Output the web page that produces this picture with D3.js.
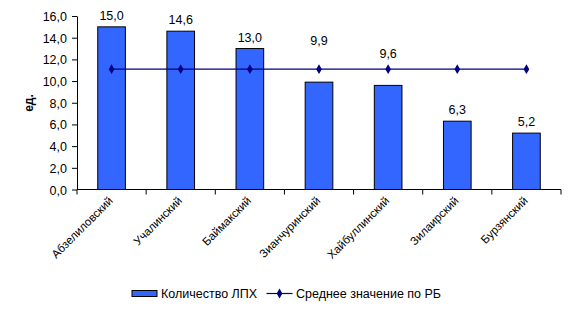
<!DOCTYPE html>
<html>
<head>
<meta charset="utf-8">
<script src="https://cdn.jsdelivr.net/npm/d3@7"></script>
<style>
  html, body { margin: 0; padding: 0; background: #fff; }
  svg { display: block; font-family: Arial, "Liberation Sans", sans-serif; }
</style>
</head>
<body>
<svg id="chart" width="576" height="326"></svg>
<script>
// Districts and number of private farms per district
const districts = ["Абзелиловский", "Учалинский", "Баймакский", "Зианчуринский", "Хайбуллинский", "Зилаирский", "Бурзянский"];
const farmCounts = [15.0, 14.6, 13.0, 9.9, 9.6, 6.3, 5.2];
const republicAverage = [11.1, 11.1, 11.1, 11.1, 11.1, 11.1, 11.1];
const yTicks = [0, 2, 4, 6, 8, 10, 12, 14, 16];
const seriesNames = ["Количество ЛПХ", "Среднее значение по РБ"];

const fmt = v => v.toFixed(1).replace(".", ",");
const svg = d3.select("#chart");

const plot = { left: 77, right: 561, top: 16, bottom: 189.5 };

const x = d3.scaleBand().domain(districts).range([plot.left, plot.right]).paddingInner(0.6).paddingOuter(0.3);
const xTicks = d3.scaleBand().domain(districts).range([plot.left, plot.right]);
const y = d3.scaleLinear().domain([0, 16]).range([plot.bottom, plot.top]);

// Y axis
const yAxis = d3.axisLeft(y).tickValues(yTicks).tickFormat(fmt).tickSize(5).tickSizeOuter(0);
const gy = svg.append("g").attr("transform", `translate(${plot.left},0)`).call(yAxis);
gy.select(".domain").attr("stroke", "#000");
gy.selectAll(".tick line").attr("stroke", "#000");
gy.selectAll(".tick text").attr("font-size", 12.5).attr("fill", "#000").attr("x", -10).attr("dy", "0.36em")
  .attr("font-family", "Arial, 'Liberation Sans', sans-serif");

// X axis line with category separators
svg.append("line").attr("x1", plot.left).attr("x2", plot.right)
  .attr("y1", y(0)).attr("y2", y(0)).attr("stroke", "#000");
const sepPositions = districts.map(d => xTicks(d)).concat([plot.right]);
svg.selectAll(".sep").data(sepPositions).enter().append("line")
  .attr("x1", d => d).attr("x2", d => d)
  .attr("y1", y(0)).attr("y2", y(0) + 5).attr("stroke", "#000");

// Bars
svg.selectAll(".bar").data(farmCounts).enter().append("rect")
  .attr("x", (d, i) => x(districts[i]))
  .attr("y", d => y(d))
  .attr("width", x.bandwidth())
  .attr("height", d => y(0) - y(d))
  .attr("fill", "#3366FF").attr("stroke", "#000").attr("stroke-width", 1);

// Average line with diamond markers
const cx = i => xTicks(districts[i]) + xTicks.bandwidth() / 2;
const line = d3.line().x((d, i) => cx(i)).y(d => y(d));
svg.append("path").datum(republicAverage).attr("d", line)
  .attr("fill", "none").attr("stroke", "#000080").attr("stroke-width", 1.2);
const diamond = d3.symbol().type(d3.symbolDiamond).size(28);
svg.selectAll(".mk").data(republicAverage).enter().append("path")
  .attr("d", diamond)
  .attr("transform", (d, i) => `translate(${cx(i)},${y(d)})`)
  .attr("fill", "#000080");

// Value labels; labels that would sit on the average line are lifted above it
const avgY = y(republicAverage[0]);
let lifted = 0;
svg.selectAll(".val").data(farmCounts).enter().append("text")
  .attr("x", (d, i) => cx(i))
  .attr("y", d => {
    const base = y(d) - 7;
    if (base > avgY - 12 && base < avgY + 16) {
      lifted++;
      return avgY - (lifted === 1 ? 24 : 11);
    }
    return base;
  })
  .attr("text-anchor", "middle").attr("font-size", 12.5).attr("fill", "#000")
  .text(fmt);

// Category labels, rotated
svg.selectAll(".cat").data(districts).enter().append("text")
  .attr("transform", (d, i) => `translate(${cx(i) + 2},${y(0) + 12}) rotate(-45)`)
  .attr("text-anchor", "end").attr("font-size", 11.5).attr("fill", "#000")
  .text(d => d);

// Y axis title
svg.append("text")
  .attr("transform", `translate(33,103) rotate(-90)`)
  .attr("text-anchor", "middle").attr("font-size", 12).attr("font-weight", "bold")
  .text("ед.");

// Legend
const lg = svg.append("g");
lg.append("rect").attr("x", 132).attr("y", 290.5).attr("width", 25).attr("height", 6)
  .attr("fill", "#3366FF").attr("stroke", "#000").attr("stroke-width", 1);
lg.append("text").attr("x", 161).attr("y", 298).attr("font-size", 12.5).text(seriesNames[0]);
lg.append("line").attr("x1", 266.5).attr("x2", 292.5).attr("y1", 293.5).attr("y2", 293.5)
  .attr("stroke", "#000080").attr("stroke-width", 1.2);
lg.append("path").attr("d", diamond).attr("transform", "translate(279.5,293.5)").attr("fill", "#000080");
lg.append("text").attr("x", 296).attr("y", 298).attr("font-size", 12.5).text(seriesNames[1]);
</script>
</body>
</html>
